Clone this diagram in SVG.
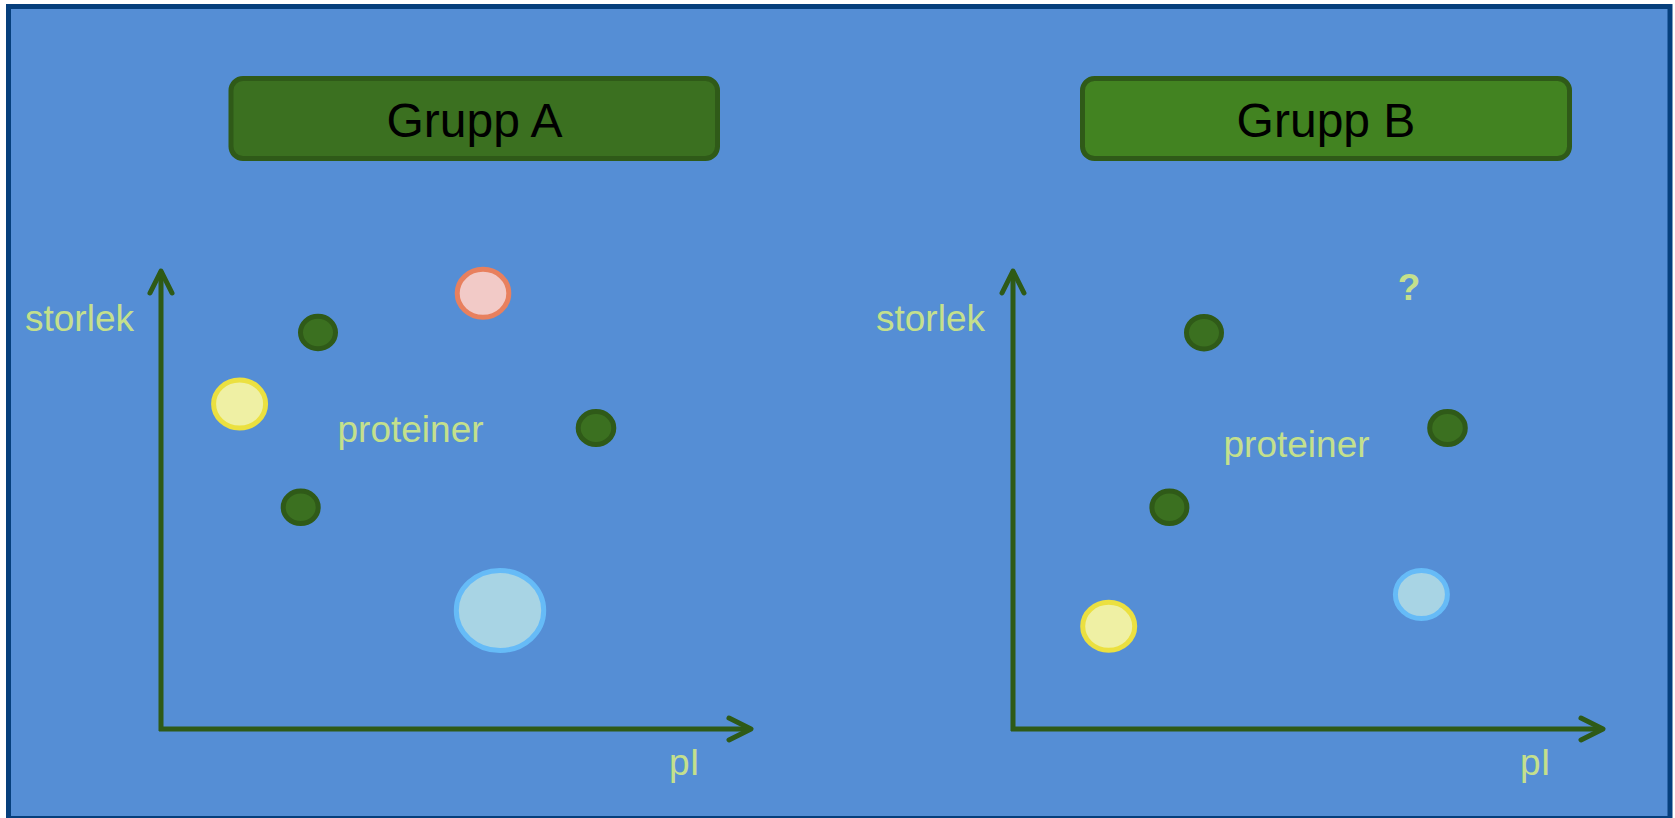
<svg xmlns="http://www.w3.org/2000/svg" width="1675" height="818" viewBox="0 0 1675 818">
  <style>
    .frame { fill: #558ed5; stroke: #063f7c; stroke-width: 5; }
    .title-box { stroke: #2f5a18; stroke-width: 5; }
    .title { font-family: "Liberation Sans", Arial, sans-serif; font-size: 48px; fill: #000; text-anchor: middle; }
    .label { font-family: "Liberation Sans", Arial, sans-serif; font-size: 37px; fill: #c4e08c; }
    .q { font-family: "Liberation Sans", Arial, sans-serif; font-size: 37px; font-weight: bold; fill: #c4e08c; text-anchor: middle; }
    .axis { fill: none; stroke: #2e5a17; stroke-width: 5; marker-end: url(#chev); }
    .dg { fill: #3b7020; stroke: #2f5a18; stroke-width: 5; }
    .yl { fill: #eff0a4; stroke: #ebe040; stroke-width: 5; }
    .pk { fill: #f2cac7; stroke: #e8805e; stroke-width: 5; }
    .bl { fill: #a8d4e4; stroke: #66bbf7; stroke-width: 5; }
  </style>
  <defs>
    <marker id="chev" markerUnits="userSpaceOnUse" markerWidth="40" markerHeight="40" viewBox="0 0 40 40" refX="30" refY="20" orient="auto">
      <path d="M8,9 L30,20 L8,31" fill="none" stroke="#2e5a17" stroke-width="5" stroke-linecap="round" stroke-linejoin="round"/>
    </marker>
  </defs>

  <!-- background panel -->
  <rect class="frame" x="8.5" y="6.5" width="1661.5" height="812"/>

  <!-- group headers -->
  <g id="grupp-a">
    <rect class="title-box" x="231" y="78.5" width="486.5" height="80" rx="12" fill="#3b7020"/>
    <text class="title" x="474.5" y="137">Grupp A</text>
  </g>
  <g id="grupp-b">
    <rect class="title-box" x="1082.5" y="78.5" width="487" height="80" rx="12" fill="#428321"/>
    <text class="title" x="1326" y="137">Grupp B</text>
  </g>

  <!-- axes -->
  <g id="connectors">
    <path class="axis" d="M161,731 L161,271"/>
    <path class="axis" d="M159,729 L751,729"/>
    <path class="axis" d="M1013,731 L1013,271"/>
    <path class="axis" d="M1011,729 L1603,729"/>
  </g>

  <!-- axis labels -->
  <g id="labels-a">
    <text class="label" x="25" y="331">storlek</text>
    <text class="label" x="669" y="775">pI</text>
    <text class="label" x="337.5" y="442">proteiner</text>
  </g>
  <g id="labels-b">
    <text class="label" x="876" y="331">storlek</text>
    <text class="label" x="1520" y="775">pI</text>
    <text class="label" x="1223.5" y="457">proteiner</text>
    <text class="q" x="1409" y="300">?</text>
  </g>

  <!-- proteins, group A -->
  <g id="proteins-a">
    <ellipse id="a-dg1" class="dg" cx="318" cy="332.5" rx="17.5" ry="16.3"/>
    <ellipse id="a-yl" class="yl" cx="239.6" cy="404" rx="26" ry="24"/>
    <ellipse id="a-dg2" class="dg" cx="300.7" cy="507.3" rx="17.5" ry="16.3"/>
    <ellipse id="a-pk" class="pk" cx="483" cy="293.3" rx="25.8" ry="24"/>
    <ellipse id="a-dg3" class="dg" cx="596" cy="428" rx="17.8" ry="16.5"/>
    <ellipse id="a-bl" class="bl" cx="500" cy="610.5" rx="43.7" ry="40"/>
  </g>

  <!-- proteins, group B -->
  <g id="proteins-b">
    <ellipse id="b-dg1" class="dg" cx="1204" cy="332.7" rx="17.5" ry="16.3"/>
    <ellipse id="b-dg2" class="dg" cx="1169.4" cy="507.3" rx="17.5" ry="16.3"/>
    <ellipse id="b-dg3" class="dg" cx="1447.5" cy="428" rx="17.8" ry="16.5"/>
    <ellipse id="b-yl" class="yl" cx="1108.7" cy="626.3" rx="26" ry="24"/>
    <ellipse id="b-bl" class="bl" cx="1421.4" cy="594.5" rx="26" ry="24"/>
  </g>
</svg>
